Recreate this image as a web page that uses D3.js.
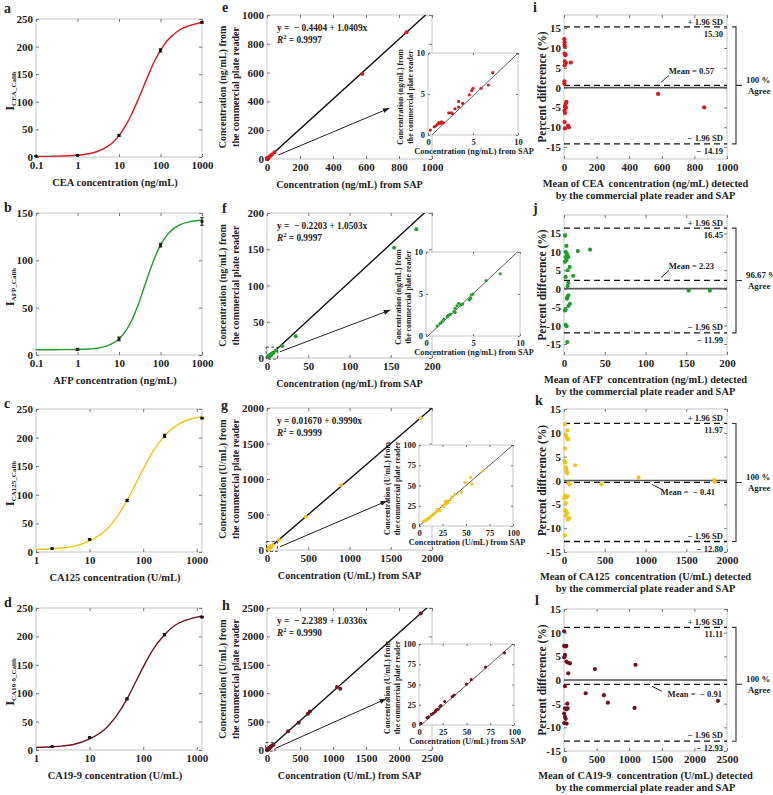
<!DOCTYPE html>
<html><head><meta charset="utf-8">
<script src="https://cdn.jsdelivr.net/npm/d3@7"></script>
<style>
body{margin:0;background:#fff}
svg text{font-family:"Liberation Serif","Times New Roman",serif;font-weight:bold;fill:#222}
</style></head><body>
<svg id="fig" width="773" height="795"></svg>
<script>
// ---------- a-d : calibration curves ----------
var calibNames = ["CEA", "AFP", "CA125", "CA19-9"];
var calibUnits = ["ng/mL", "ng/mL", "U/mL", "U/mL"];
var calibXDomain = [[0.1, 1000], [0.1, 1000], [1, 1250], [1, 1250]];
var calibXTicks = [[0.1, 1, 10, 100, 1000], [0.1, 1, 10, 100, 1000], [1, 10, 100, 1000], [1, 10, 100, 1000]];
var calibYMax = [250, 150, 250, 250];
var calibYTicks = [[0, 50, 100, 150, 200, 250], [0, 50, 100, 150], [0, 50, 100, 150, 200, 250], [0, 50, 100, 150, 200, 250]];

var fitX_ng = [0.1, 0.3, 1, 2, 3, 5, 7, 10, 15, 20, 30, 50, 70, 100, 150, 200, 300, 500, 1000];
var fitX_U = [1, 2, 3, 5, 10, 20, 30, 50, 70, 100, 150, 250, 400, 600, 1000, 1250];
var ceaFit = [1.1, 1.5, 3.2, 6.4, 10, 17.9, 26, 38.7, 59, 77, 107, 147, 172, 193, 212, 221, 231, 238, 243.7];
var afpFit = [5.5, 5.6, 5.8, 6.4, 7.2, 9.4, 12.2, 17, 26.4, 36.2, 55, 83.5, 101, 116, 127.7, 133, 137.7, 140.7, 142.3];
var ca125Fit = [4.6, 5.7, 6.9, 9.8, 19.5, 38, 57, 90, 116.5, 145, 175, 203, 220, 229, 235, 237];
var ca199Fit = [4.5, 5.6, 6.8, 9.7, 19.5, 38, 57, 90, 117, 146, 176, 203, 220, 228, 234, 236];

var ceaStdX = [0.1, 1, 10, 100, 1000], ceaStdY = [1.5, 3, 39, 193, 244], ceaStdErr = [0.5, 0.5, 1.5, 3, 1.5];
var afpStdX = [1, 10, 100, 1000], afpStdY = [6, 17, 116, 141], afpStdErr = [1, 2, 2, 4];
var ca125StdX = [2, 10, 50, 250, 1250], ca125StdY = [6, 22, 90, 203, 234], ca125StdErr = [0.8, 1, 2, 3, 1];
var ca199StdX = [2, 10, 50, 250, 1250], ca199StdY = [6, 22, 90, 203, 234], ca199StdErr = [0.8, 1, 1.5, 2, 1];

// ---------- e-h : correlation with plate reader ----------
var corrMax = [1000, 200, 2000, 2500];
var corrTicks = [[0, 200, 400, 600, 800, 1000], [0, 50, 100, 150, 200], [0, 500, 1000, 1500, 2000], [0, 500, 1000, 1500, 2000, 2500]];
var insetMax = [10, 10, 100, 100];
var insetTicks = [[0, 5, 10], [0, 5, 10], [0, 25, 50, 75, 100], [0, 25, 50, 75, 100]];
var regIntercept = [-0.4404, -0.2203, 0.01670, -2.2389];
var regSlope = [1.0409, 1.0503, 0.9990, 1.0336];
var regEqText = ["y =  \u2212 0.4404 + 1.0409x", "y =  \u2212 0.2203 + 1.0503x", "y = 0.01670 + 0.9990x", "y =  \u2212 2.2389 + 1.0336x"];
var regR2Text = ["0.9997", "0.9997", "0.9999", "0.9990"];

var ceaInset = [[0.26, 0.6], [0.7, 1.0], [0.85, 1.1], [1.04, 1.3], [1.2, 1.5], [1.4, 1.4], [1.5, 1.6], [1.7, 1.5], [2.3, 2.7], [2.6, 2.7], [2.7, 2.6], [3.0, 3.2], [3.4, 3.4], [3.4, 4.1], [3.85, 3.85], [4.6, 4.9], [4.85, 5.4], [5.0, 5.7], [5.9, 5.7], [6.7, 6.1], [7.2, 7.6]];
var ceaHigh = [[12, 13], [20, 21], [30, 31], [45, 47], [577, 590], [846, 880]];
var afpInset = [[1.2, 1.2], [1.5, 1.5], [1.7, 1.7], [1.9, 2.0], [2.25, 2.3], [2.4, 2.5], [2.6, 2.6], [2.96, 2.9], [3.1, 2.8], [3.1, 3.3], [3.3, 3.6], [3.5, 3.9], [3.7, 3.7], [3.9, 3.8], [4.6, 4.3], [4.75, 4.5], [4.85, 4.9], [5.0, 5.0], [6.4, 6.6], [7.9, 7.4]];
var afpHigh = [[11, 10.5], [18.5, 16.5], [34.8, 30], [154, 152], [181, 177.5]];
var ca125Inset = [[5, 6], [7, 7], [8, 7.5], [9, 8.5], [10, 9.5], [11, 10], [12, 11], [13, 12.5], [15, 14], [17, 16], [19, 18], [20, 21], [22, 19], [25, 25], [26, 24], [28, 27], [28, 30], [29, 31], [30, 28], [31, 29], [33, 32], [35, 36], [38, 39], [45, 42], [49, 54], [55, 60], [56, 52], [68, 68]];
var ca125High = [[145, 141], [469, 469], [897, 915], [1863, 1855]];
var ca199Inset = [[2, 2], [8.5, 9], [10, 10], [13, 13], [15, 14.5], [17, 16.5], [18, 18.6], [20, 19.4], [22, 22.7], [23, 24], [27, 29], [35, 35], [37, 37], [50, 50.4], [55, 56], [70, 71.5], [90, 89]];
var ca199High = [[320, 330], [480, 480], [620, 640], [650, 680], [1060, 1110], [1110, 1080], [2330, 2405]];

// ---------- i-l : Bland-Altman ----------
var baXMax = [1000, 200, 2000, 2500];
var baXTicks = [[0, 200, 400, 600, 800, 1000], [0, 50, 100, 150, 200], [0, 500, 1000, 1500, 2000], [0, 500, 1000, 1500, 2000, 2500]];
var baYDomain = [[-18, 18.3], [-18, 20], [-15, 15], [-15, 15]];
var baYTicks = [-15, -10, -5, 0, 5, 10, 15];
var baUpper = [15.30, 16.45, 11.97, 11.11];
var baMean = [0.57, 2.23, -0.41, -0.91];
var baLower = [-14.19, -11.99, -12.80, -12.93];
var baUpperText = ["15.30", "16.45", "11.97", "11.11"];
var baLowerText = ["\u2212 14.19", "\u2212 11.99", "\u2212 12.80", "\u2212 12.93"];
var baMeanText = ["Mean = 0.57", "Mean = 2.23", "Mean =  \u2212 0.41", "Mean =  \u2212 0.91"];
var baAgree = ["100 %", "96.67 %", "100 %", "100 %"];

var ceaBA = [[2, 12.2], [4, 11.4], [3, 10.8], [5, 10.3], [3, 8.6], [8, 8.2], [10, 8.3], [5, 6.6], [42, 6.3], [12, 6.2], [4, 5.6], [3, 1.6], [2, 1.0], [15, -3.6], [10, -4.1], [5, -4.8], [12, -5.1], [3, -5.8], [6, -6.4], [4, -8.7], [25, -9.6], [31, -10.0], [6, -10.3], [577, -1.6], [860, -5.0]];
var afpBA = [[1.2, 14.4], [2.9, 11.6], [2, 10], [3.3, 9.5], [4, 9.1], [2, 8.6], [5.3, 8.6], [2.9, 7.7], [1.2, 7.3], [7, 5.9], [4.5, 5], [2, 3.2], [11.4, 3.5], [5.3, 1.6], [4.5, 0.7], [5.3, -1.8], [4, -2.3], [3.7, -2.7], [7.3, -4.1], [5.3, -4.7], [2, -5.7], [1.2, -5.9], [2, -9.8], [3.3, -10.2], [4, -14.5], [17, 10.2], [32, 10.6], [153, -0.5], [179, -0.5]];
var ca125BA = [[12, 11.8], [41, 10.5], [21, 9.6], [29, 9.1], [41, 8.7], [54, 8.7], [12, 6.7], [8, 4.1], [12, 3.8], [21, 2.8], [29, 2.3], [33, 1.8], [41, 1.5], [54, -0.6], [70, -0.85], [12, -3.2], [29, -3.5], [41, -3.3], [2, -3.7], [21, -4.75], [12, -6.2], [29, -6.5], [37, -6.9], [21, -7.4], [45, -8.2], [62, -7.9], [12, -11.5], [136, 3.2], [458, -0.8], [915, 0.6], [1843, 0.1], [1850, -0.35]];
var ca199BA = [[2, 10.3], [3, 7.2], [26, 7.1], [36, 7.2], [15, 5.3], [3, 4.8], [36, 3.9], [56, 3.7], [92, 3.5], [66, 1.4], [474, 2.3], [1097, 3.2], [15, -1.3], [51, -5.0], [15, -6.0], [36, -6.2], [56, -6.0], [3, -7.1], [15, -7.8], [26, -8.2], [3, -9.1], [41, -9.2], [332, -2.8], [612, -3.2], [673, -4.8], [1082, -5.9], [2362, -4.4]];

var colors = ["#d7191c", "#1f9e2a", "#f2c318", "#6e1420"];
var calibFitX = [fitX_ng, fitX_ng, fitX_U, fitX_U];
var calibFitY = [ceaFit, afpFit, ca125Fit, ca199Fit];
var calibStd = [[ceaStdX, ceaStdY, ceaStdErr], [afpStdX, afpStdY, afpStdErr], [ca125StdX, ca125StdY, ca125StdErr], [ca199StdX, ca199StdY, ca199StdErr]];
var corrInset = [ceaInset, afpInset, ca125Inset, ca199Inset];
var corrHigh = [ceaHigh, afpHigh, ca125High, ca199High];
var baPts = [ceaBA, afpBA, ca125BA, ca199BA];

// ---------- layout ----------
var calibLayout = [
  {x0: 36, x1: 202, y0: 19, y1: 157, letter: "a", lx: 4, ly: 13},
  {x0: 36, x1: 202, y0: 213, y1: 355, letter: "b", lx: 4, ly: 212},
  {x0: 36, x1: 202, y0: 409, y1: 552, letter: "c", lx: 4, ly: 408},
  {x0: 36, x1: 202, y0: 608, y1: 750, letter: "d", lx: 4, ly: 607}
];
var corrLayout = [
  {x0: 267, x1: 432, y0: 15, y1: 159, letter: "e", lx: 222, ly: 12},
  {x0: 267, x1: 432, y0: 213, y1: 358, letter: "f", lx: 222, ly: 213},
  {x0: 267, x1: 432, y0: 408, y1: 550, letter: "g", lx: 221, ly: 410},
  {x0: 267, x1: 432, y0: 608, y1: 750, letter: "h", lx: 222, ly: 610}
];
var insetLayout = [
  {x0: 428, x1: 518, y0: 53, y1: 135, t1: -25, t2: -15.5},
  {x0: 426, x1: 520, y0: 252, y1: 336, t1: -25, t2: -15.5},
  {x0: 419, x1: 513, y0: 445, y1: 526, t1: -29, t2: -19.5},
  {x0: 419, x1: 514, y0: 644, y1: 725, t1: -29, t2: -19.5}
];
var corrBox = [null, [-1, 13, -1.5, 15], [-5, 125, -20, 120], [-20, 120, -20, 130]];
var corrArrow = [[69, 28, 740, 352], [15.8, 8.7, 149, 66], [158, 46, 1451, 690], [130, 30, 1800, 898]];
var baLayout = [
  {x0: 564, x1: 727, y0: 15, y1: 159, letter: "i", lx: 533, ly: 12, below: false, mdx: -13},
  {x0: 564, x1: 727, y0: 215, y1: 355, letter: "j", lx: 533, ly: 213, below: false, mdx: -13},
  {x0: 564, x1: 727, y0: 409, y1: 552, letter: "k", lx: 535, ly: 405, below: true, mdx: -12},
  {x0: 564, x1: 727, y0: 609, y1: 751, letter: "l", lx: 535, ly: 605, below: true, mdx: -5}
];

var FS_TICK = 11;

var svg = d3.select("#fig");
svg.append("rect").attr("width", 773).attr("height", 795).attr("fill", "#fff");
var defs = svg.append("defs");
defs.append("marker").attr("id", "arr").attr("viewBox", "0 0 10 10").attr("refX", 9).attr("refY", 5)
  .attr("markerWidth", 7).attr("markerHeight", 7).attr("orient", "auto")
  .append("path").attr("d", "M0,1.5 L10,5 L0,8.5 z").attr("fill", "#222");

function frame(g, L) {
  g.append("rect").attr("x", L.x0).attr("y", L.y0).attr("width", L.x1 - L.x0).attr("height", L.y1 - L.y0)
    .attr("fill", "#fff").attr("stroke", "#c4c4c4").attr("stroke-width", 1);
}

function axes(g, x, y, L, xt, yt, fmt, fs, tl) {
  var a1 = g.append("g").attr("transform", "translate(0," + L.y1 + ")")
    .call(d3.axisBottom(x).tickValues(xt).tickSize(-tl).tickPadding(4).tickFormat(fmt));
  var a2 = g.append("g").attr("transform", "translate(0," + L.y0 + ")")
    .call(d3.axisTop(x).tickValues(xt).tickSize(-tl).tickFormat(""));
  var a3 = g.append("g").attr("transform", "translate(" + L.x0 + ",0)")
    .call(d3.axisLeft(y).tickValues(yt).tickSize(-tl).tickPadding(3).tickFormat(fmt));
  var a4 = g.append("g").attr("transform", "translate(" + L.x1 + ",0)")
    .call(d3.axisRight(y).tickValues(yt).tickSize(-tl).tickFormat(""));
  [a1, a2, a3, a4].forEach(function(a) {
    a.attr("font-family", null).attr("font-size", fs);
    a.select(".domain").remove();
    a.selectAll(".tick line").attr("stroke", "#777");
  });
}

function letter(L) {
  svg.append("text").attr("x", L.lx).attr("y", L.ly).attr("font-size", 14).text(L.letter);
}

function vtext(x, y, fs) {
  return svg.append("text").attr("transform", "translate(" + x + "," + y + ") rotate(-90)")
    .attr("text-anchor", "middle").attr("font-size", fs);
}

var fmtNum = function(d) { return String(d); };

// ---------- calibration panels ----------
function calibPanel(k) {
  var L = calibLayout[k];
  var g = svg.append("g");
  var x = d3.scaleLog().domain(calibXDomain[k]).range([L.x0, L.x1]);
  var y = d3.scaleLinear().domain([0, calibYMax[k]]).range([L.y1, L.y0]);
  frame(g, L);
  axes(g, x, y, L, calibXTicks[k], calibYTicks[k], fmtNum, FS_TICK, 3);

  g.append("path").datum(d3.zip(calibFitX[k], calibFitY[k]))
    .attr("d", d3.line().x(function(d) { return x(d[0]); }).y(function(d) { return y(d[1]); }).curve(d3.curveMonotoneX))
    .attr("fill", "none").attr("stroke", colors[k]).attr("stroke-width", 1.4);

  var s = calibStd[k];
  var std = d3.zip(s[0], s[1], s[2]);
  var eb = g.selectAll("g.eb").data(std).enter().append("g");
  eb.append("line").attr("x1", function(d) { return x(d[0]); }).attr("x2", function(d) { return x(d[0]); })
    .attr("y1", function(d) { return y(d[1] - d[2]); }).attr("y2", function(d) { return y(d[1] + d[2]); })
    .attr("stroke", "#111").attr("stroke-width", 1);
  [-1, 1].forEach(function(sg) {
    eb.append("line").attr("x1", function(d) { return x(d[0]) - 1.8; }).attr("x2", function(d) { return x(d[0]) + 1.8; })
      .attr("y1", function(d) { return y(d[1] + sg * d[2]); }).attr("y2", function(d) { return y(d[1] + sg * d[2]); })
      .attr("stroke", "#111").attr("stroke-width", 0.9);
  });
  eb.append("rect").attr("x", function(d) { return x(d[0]) - 1.4; }).attr("y", function(d) { return y(d[1]) - 1.4; })
    .attr("width", 2.8).attr("height", 2.8).attr("fill", "#111");

  letter(L);
  var cx = (L.x0 + L.x1) / 2 - 4;
  svg.append("text").attr("x", cx).attr("y", L.y1 + 29).attr("text-anchor", "middle").attr("font-size", 10.5)
    .text(calibNames[k] + " concentration (" + calibUnits[k] + ")");
  var t = vtext(14, (L.y0 + L.y1) / 2 + 3, 12.5);
  t.append("tspan").text("I");
  t.append("tspan").attr("font-size", 7).attr("dy", 2).text(calibNames[k] + "_Calib");
}

// ---------- correlation panels ----------
function corrPanel(k) {
  var L = corrLayout[k], I = insetLayout[k];
  var g = svg.append("g");
  var m = corrMax[k];
  var x = d3.scaleLinear().domain([0, m]).range([L.x0, L.x1]);
  var y = d3.scaleLinear().domain([0, m]).range([L.y1, L.y0]);
  frame(g, L);
  axes(g, x, y, L, corrTicks[k], corrTicks[k], fmtNum, FS_TICK, 3);

  defs.append("clipPath").attr("id", "cm" + k).append("rect")
    .attr("x", L.x0).attr("y", L.y0).attr("width", L.x1 - L.x0).attr("height", L.y1 - L.y0);
  g.append("line").attr("clip-path", "url(#cm" + k + ")")
    .attr("x1", x(0)).attr("y1", y(regIntercept[k])).attr("x2", x(m)).attr("y2", y(regIntercept[k] + regSlope[k] * m))
    .attr("stroke", "#111").attr("stroke-width", 1.4);
  var pts = corrInset[k].concat(corrHigh[k]);
  g.selectAll("circle.p").data(pts).enter().append("circle")
    .attr("cx", function(d) { return x(d[0]); }).attr("cy", function(d) { return y(d[1]); })
    .attr("r", 2).attr("fill", colors[k]);

  g.append("text").attr("x", L.x0 + 10).attr("y", L.y0 + 16).attr("font-size", 9.3).style("white-space", "pre").text(regEqText[k]);
  var r2 = g.append("text").attr("x", L.x0 + 10).attr("y", L.y0 + 28).attr("font-size", 9.3);
  r2.append("tspan").attr("font-style", "italic").text("R");
  r2.append("tspan").attr("font-size", 6.5).attr("dy", -4).text("2");
  r2.append("tspan").attr("dy", 4).text(" = " + regR2Text[k]);

  if (corrBox[k]) {
    var b = corrBox[k];
    g.append("rect").attr("x", x(b[0])).attr("y", y(b[3])).attr("width", x(b[1]) - x(b[0])).attr("height", y(b[2]) - y(b[3]))
      .attr("fill", "none").attr("stroke", "#333").attr("stroke-width", 0.9).attr("stroke-dasharray", "3,2");
  }
  var a = corrArrow[k];
  g.append("line").attr("x1", x(a[0])).attr("y1", y(a[1])).attr("x2", x(a[2])).attr("y2", y(a[3]))
    .attr("stroke", "#222").attr("stroke-width", 1).attr("marker-end", "url(#arr)");

  // inset
  var gi = svg.append("g");
  var mi = insetMax[k];
  var xi = d3.scaleLinear().domain([0, mi]).range([I.x0, I.x1]);
  var yi = d3.scaleLinear().domain([0, mi]).range([I.y1, I.y0]);
  frame(gi, I);
  axes(gi, xi, yi, I, insetTicks[k], insetTicks[k], fmtNum, 8.5, 2);
  defs.append("clipPath").attr("id", "ci" + k).append("rect")
    .attr("x", I.x0).attr("y", I.y0).attr("width", I.x1 - I.x0).attr("height", I.y1 - I.y0);
  gi.append("line").attr("clip-path", "url(#ci" + k + ")")
    .attr("x1", xi(0)).attr("y1", yi(regIntercept[k])).attr("x2", xi(mi)).attr("y2", yi(regIntercept[k] + regSlope[k] * mi))
    .attr("stroke", "#333").attr("stroke-width", 0.8);
  gi.selectAll("circle.p").data(corrInset[k]).enter().append("circle")
    .attr("cx", function(d) { return xi(d[0]); }).attr("cy", function(d) { return yi(d[1]); })
    .attr("r", 1.6).attr("fill", colors[k]);
  var unit = calibUnits[k];
  svg.append("text").attr("x", (I.x0 + I.x1) / 2 + 1).attr("y", I.y1 + 19).attr("text-anchor", "middle").attr("font-size", 8.3)
    .text("Concentration (" + unit + ") from SAP");
  var iy = (I.y0 + I.y1) / 2 + 3;
  vtext(I.x0 + I.t1, iy, 7.8).text("Concentration (" + unit + ") from");
  vtext(I.x0 + I.t2, iy, 7.8).text("the commercial plate reader");

  letter(L);
  svg.append("text").attr("x", (L.x0 + L.x1) / 2).attr("y", L.y1 + 29).attr("text-anchor", "middle").attr("font-size", 10.2)
    .text("Concentration (" + unit + ") from SAP");
  var my = (L.y0 + L.y1) / 2;
  vtext(225.5, my, 10).text("Concentration (" + unit + ") from");
  vtext(238.5, my, 10).text("the commercial plate reader");
}

// ---------- Bland-Altman panels ----------
function baPanel(k) {
  var L = baLayout[k];
  var g = svg.append("g");
  var x = d3.scaleLinear().domain([0, baXMax[k]]).range([L.x0, L.x1]);
  var y = d3.scaleLinear().domain(baYDomain[k]).range([L.y1, L.y0]);
  frame(g, L);
  axes(g, x, y, L, baXTicks[k], baYTicks, fmtNum, FS_TICK, 3);

  g.append("line").attr("x1", L.x0).attr("x2", L.x1).attr("y1", y(0)).attr("y2", y(0))
    .attr("stroke", "#555").attr("stroke-width", 1.7);
  [baUpper[k], baMean[k], baLower[k]].forEach(function(v) {
    g.append("line").attr("x1", L.x0).attr("x2", L.x1).attr("y1", y(v)).attr("y2", y(v))
      .attr("stroke", "#111").attr("stroke-width", 1.3).attr("stroke-dasharray", "6,4");
  });
  g.selectAll("circle.p").data(baPts[k]).enter().append("circle")
    .attr("cx", function(d) { return x(d[0]); }).attr("cy", function(d) { return y(d[1]); })
    .attr("r", 2.1).attr("fill", colors[k]);

  var rx = L.x1 - 4, fsl = 8.6;
  g.append("text").attr("x", rx).attr("y", y(baUpper[k]) - 2).attr("text-anchor", "end").attr("font-size", fsl).text("+ 1.96 SD");
  g.append("text").attr("x", rx).attr("y", y(baUpper[k]) + 10).attr("text-anchor", "end").attr("font-size", fsl).text(baUpperText[k]);
  g.append("text").attr("x", rx).attr("y", y(baLower[k]) - 3).attr("text-anchor", "end").attr("font-size", fsl).text("\u2212 1.96 SD");
  g.append("text").attr("x", rx).attr("y", y(baLower[k]) + 10).attr("text-anchor", "end").attr("font-size", fsl).style("white-space", "pre").text(baLowerText[k]);

  var ym = y(baMean[k]);
  if (L.below) {
    g.append("text").attr("x", L.x1 + L.mdx).attr("y", ym + 13).attr("text-anchor", "end").attr("font-size", fsl).style("white-space", "pre").text(baMeanText[k]);
    g.append("line").attr("x1", L.x0 + 88).attr("y1", ym + 2).attr("x2", L.x0 + 98).attr("y2", ym + 7).attr("stroke", "#222");
  } else {
    g.append("text").attr("x", L.x1 + L.mdx).attr("y", ym - 11).attr("text-anchor", "end").attr("font-size", fsl).text(baMeanText[k]);
    g.append("line").attr("x1", L.x0 + 97).attr("y1", ym - 3).attr("x2", L.x0 + 105).attr("y2", ym - 10).attr("stroke", "#222");
  }

  var bx = L.x1 + 9, bt = y(baUpper[k]), bb = y(baLower[k]), bm = (bt + bb) / 2;
  svg.append("path").attr("d", "M" + (bx - 4) + "," + bt + "H" + bx + "V" + bb + "H" + (bx - 4) + "M" + bx + "," + bm + "H" + (bx + 6))
    .attr("fill", "none").attr("stroke", "#333").attr("stroke-width", 1.1);
  svg.append("text").attr("x", bx + 10).attr("y", bm - 2).attr("font-size", 8.8).text(baAgree[k]);
  svg.append("text").attr("x", bx + 12).attr("y", bm + 9).attr("font-size", 8.8).text("Agree");

  letter(L);
  var cx = (L.x0 + L.x1) / 2;
  svg.append("text").attr("x", cx).attr("y", L.y1 + 28).attr("text-anchor", "middle").attr("font-size", 10.4).style("white-space", "pre")
    .text("Mean of " + calibNames[k] + "  concentration (" + calibUnits[k] + ") detected");
  svg.append("text").attr("x", cx).attr("y", L.y1 + 40).attr("text-anchor", "middle").attr("font-size", 10.4)
    .text("by the commercial plate reader and SAP");
  vtext(545.5, (L.y0 + L.y1) / 2, 11.5).text("Percent difference (%)");
}

for (var k = 0; k < 4; k++) { calibPanel(k); }
for (var k = 0; k < 4; k++) { baPanel(k); }
for (var k = 0; k < 4; k++) { corrPanel(k); }
</script>
</body></html>
